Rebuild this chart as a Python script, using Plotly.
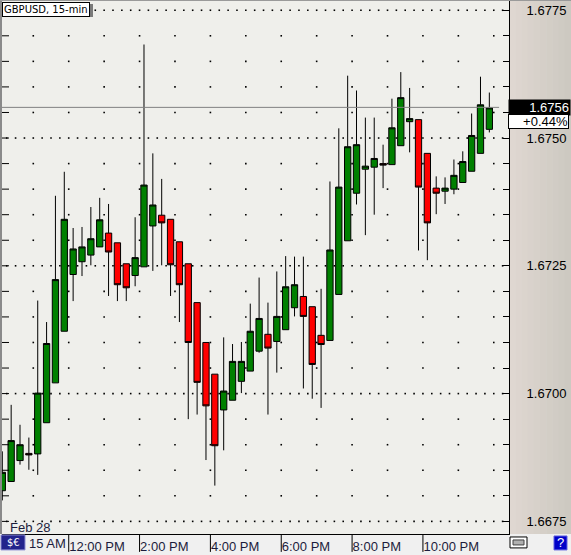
import plotly.graph_objects as go

# ---------------- data ----------------
bar_index = list(range(56))
open_ = [1.66810, 1.66828, 1.66869, 1.66883, 1.66882, 1.66943, 1.67021, 1.67122,
         1.67233, 1.67258, 1.67271, 1.67287, 1.67314, 1.67295, 1.67254, 1.67231,
         1.67248, 1.67328, 1.67349, 1.67341, 1.67297, 1.67254, 1.67178, 1.67100,
         1.67038, 1.66968, 1.66987, 1.67024, 1.67044, 1.67083, 1.67116, 1.67102,
         1.67125, 1.67168, 1.67190, 1.67170, 1.67114, 1.67104, 1.67194, 1.67299,
         1.67392, 1.67439, 1.67443, 1.67450, 1.67448, 1.67485, 1.67532, 1.67536,
         1.67470, 1.67402, 1.67396, 1.67400, 1.67413, 1.67435, 1.67470, 1.67517]
high = [1.66887, 1.66978, 1.66939, 1.66914, 1.67182, 1.67140, 1.67387, 1.67434,
        1.67324, 1.67326, 1.67365, 1.67383, 1.67371, 1.67295, 1.67254, 1.67345,
        1.67683, 1.67470, 1.67420, 1.67341, 1.67297, 1.67254, 1.67178, 1.67100,
        1.67038, 1.67110, 1.67097, 1.67101, 1.67176, 1.67227, 1.67178, 1.67239,
        1.67269, 1.67268, 1.67268, 1.67170, 1.67205, 1.67415, 1.67519, 1.67622,
        1.67593, 1.67540, 1.67540, 1.67487, 1.67577, 1.67629, 1.67598, 1.67536,
        1.67470, 1.67425, 1.67423, 1.67458, 1.67474, 1.67548, 1.67620, 1.67589]
low = [1.66791, 1.66828, 1.66861, 1.66851, 1.66841, 1.66943, 1.67021, 1.67122,
       1.67181, 1.67230, 1.67251, 1.67287, 1.67191, 1.67181, 1.67181, 1.67210,
       1.67248, 1.67240, 1.67251, 1.67191, 1.67140, 1.66950, 1.66959, 1.66870,
       1.66820, 1.66889, 1.66987, 1.67001, 1.67044, 1.67080, 1.66959, 1.67041,
       1.67125, 1.67151, 1.67010, 1.66990, 1.66972, 1.67104, 1.67194, 1.67299,
       1.67370, 1.67310, 1.67350, 1.67402, 1.67448, 1.67485, 1.67472, 1.67280,
       1.67261, 1.67351, 1.67371, 1.67390, 1.67413, 1.67435, 1.67470, 1.67511]
close = [1.66846, 1.66908, 1.66900, 1.66880, 1.67001, 1.67098, 1.67223, 1.67341,
         1.67283, 1.67287, 1.67303, 1.67340, 1.67277, 1.67213, 1.67207, 1.67266,
         1.67408, 1.67369, 1.67334, 1.67252, 1.67213, 1.67100, 1.67022, 1.66976,
         1.66898, 1.67005, 1.67063, 1.67063, 1.67122, 1.67147, 1.67089, 1.67151,
         1.67209, 1.67213, 1.67151, 1.67057, 1.67096, 1.67281, 1.67404, 1.67483,
         1.67487, 1.67445, 1.67460, 1.67447, 1.67520, 1.67579, 1.67538, 1.67404,
         1.67334, 1.67392, 1.67402, 1.67427, 1.67454, 1.67505, 1.67565, 1.67559]

current_price = 1.6756
change_text = "+0.44%"
title_text = "GBPUSD, 15-min"
date_text = "Feb 28"
first_label = "15 AM"

time_tick_pos = [7.5, 15.5, 23.5, 31.5, 39.5, 47.5]
time_labels = ["12:00 PM", "2:00 PM", "4:00 PM", "6:00 PM", "8:00 PM", "10:00 PM"]
hour_grid_pos = [3.5 + 4 * k for k in range(14)]

price_major = [1.6675, 1.6700, 1.6725, 1.6750, 1.6775]
price_ticks = [round(1.6675 + 0.0005 * k, 4) for k in range(21)]
price_ticktext = [f"{p:.4f}" if p in price_major else "" for p in price_ticks]

# ---------------- layout geometry ----------------
W, H = 571, 555
ML, MR, MT, MB = 2, 62, 1, 18
PW = W - ML - MR
PH = H - MT - MB
X_RANGE = [-0.034, 57.22]
Y_RANGE = [1.667253, 1.677681]


def pxx(px):
    return (px - ML) / PW


def pxy(py):
    return (H - MB - py) / PH


FONT = "Liberation Sans, Arial, sans-serif"
NAVY = "#1c1c3c"

fig = go.Figure()

# dotted grid: major rows
gx, gy = [], []
for p in price_major:
    for i in range(-1, 58):
        gx.append(i + 0.5)
        gy.append(p)
# hourly columns at minor levels
for xg in hour_grid_pos:
    for p in price_ticks:
        if p not in price_major:
            gx.append(xg)
            gy.append(p)
fig.add_trace(go.Scatter(x=gx, y=gy, mode="markers",
                         marker=dict(symbol="square", size=1.6, color="black", line=dict(width=0)),
                         hoverinfo="skip", showlegend=False))

# left edge ticks
fig.add_trace(go.Scatter(x=[X_RANGE[0]] * len(price_ticks), y=price_ticks, mode="markers",
                         marker=dict(symbol="line-ew", size=10, line=dict(color="black", width=1)),
                         hoverinfo="skip", showlegend=False))

# current price line
fig.add_trace(go.Scatter(x=[X_RANGE[0], 56.1], y=[current_price, current_price], mode="lines",
                         line=dict(color="#808080", width=1), hoverinfo="skip", showlegend=False))

fig.add_trace(go.Candlestick(
    x=bar_index, open=open_, high=high, low=low, close=close,
    increasing=dict(fillcolor="#008000", line=dict(color="black", width=1)),
    decreasing=dict(fillcolor="#ff0000", line=dict(color="black", width=1)),
    whiskerwidth=0, hoverinfo="skip", showlegend=False))

shapes = []
# right panel gradient
c0 = (223, 215, 209)
c1 = (205, 201, 193)
n = 10
for k in range(n):
    t = k / (n - 1)
    col = tuple(int(round(c0[j] + (c1[j] - c0[j]) * t)) for j in range(3))
    x0 = 509 + k * (W - 509) / n
    x1 = 509 + (k + 1) * (W - 509) / n + 0.5
    shapes.append(dict(type="rect", xref="paper", yref="paper", x0=pxx(x0), x1=pxx(x1),
                       y0=pxy(537), y1=pxy(0), fillcolor="rgb(%d,%d,%d)" % col,
                       line=dict(width=0), layer="below"))
# left gray border
shapes.append(dict(type="rect", xref="paper", yref="paper", x0=pxx(0), x1=pxx(2),
                   y0=pxy(537), y1=pxy(0), fillcolor="#8a8a8a", line=dict(width=0), layer="above"))
# top border
shapes.append(dict(type="line", xref="paper", yref="paper", x0=pxx(0), x1=pxx(W),
                   y0=pxy(0.5), y1=pxy(0.5), line=dict(color="#9a9a9a", width=1)))
# time separators
for xv in time_tick_pos:
    shapes.append(dict(type="line", xref="x", yref="paper", x0=xv, x1=xv,
                       y0=0, y1=pxy(H), line=dict(color="black", width=1)))
# title shadow
shapes.append(dict(type="rect", xref="paper", yref="paper", x0=pxx(4), x1=pxx(93),
                   y0=pxy(17), y1=pxy(4), fillcolor="#7a7a7a", line=dict(width=0)))
# $€ icon
shapes.append(dict(type="rect", xref="paper", yref="paper", x0=pxx(1), x1=pxx(25),
                   y0=pxy(553), y1=pxy(538), fillcolor="#23238c",
                   line=dict(color="#8c8cd2", width=1)))
# link icon
shapes.append(dict(type="rect", xref="paper", yref="paper", x0=pxx(510), x1=pxx(527),
                   y0=pxy(551), y1=pxy(540), fillcolor="white", line=dict(color="black", width=1)))
shapes.append(dict(type="rect", xref="paper", yref="paper", x0=pxx(513), x1=pxx(524),
                   y0=pxy(548), y1=pxy(543), fillcolor="#b0b0b0", line=dict(color="#404040", width=1)))
# help icon
shapes.append(dict(type="rect", xref="paper", yref="paper", x0=pxx(554), x1=pxx(567),
                   y0=pxy(553), y1=pxy(539), fillcolor="#0000c8", line=dict(color="#6060e0", width=1)))

annotations = [
    dict(text=title_text, xref="paper", yref="paper", x=pxx(2), y=pxy(2.5), xanchor="left",
         yanchor="top", showarrow=False, bgcolor="white", bordercolor="black", borderwidth=1,
         borderpad=1, font=dict(family="DejaVu Sans", size=10, color="black")),
    dict(text=date_text, xref="paper", yref="paper", x=pxx(8), y=pxy(530), xanchor="left",
         yanchor="middle", showarrow=False, font=dict(family=FONT, size=13, color=NAVY)),
    dict(text=first_label, xref="paper", yref="paper", x=pxx(27), y=pxy(547), xanchor="left",
         yanchor="middle", showarrow=False, font=dict(family=FONT, size=13, color=NAVY)),
    dict(text="$€", xref="paper", yref="paper", x=pxx(13), y=pxy(545.5), xanchor="center",
         yanchor="middle", showarrow=False, font=dict(family="DejaVu Sans", size=10, color="white")),
    dict(text="?", xref="paper", yref="paper", x=pxx(560.5), y=pxy(546), xanchor="center",
         yanchor="middle", showarrow=False, font=dict(family=FONT, size=13, color="white")),
    dict(text=f"{current_price:.4f}", xref="paper", yref="y", x=pxx(508), y=current_price,
         xanchor="left", yanchor="middle", showarrow=False, bgcolor="black", borderpad=1,
         width=59, height=13, align="right", font=dict(family=FONT, size=13, color="white")),
    dict(text=change_text, xref="paper", yref="y", x=pxx(508), y=current_price, yshift=-7,
         xanchor="left", yanchor="top", showarrow=False, bgcolor="white", bordercolor="black",
         borderwidth=1, borderpad=0, width=59, height=13, align="right",
         font=dict(family=FONT, size=13, color="black")),
]

fig.update_layout(
    width=W, height=H,
    margin=dict(l=ML, r=MR, t=MT, b=MB, pad=0),
    paper_bgcolor="#f0f0f0",
    plot_bgcolor="#efefeb",
    showlegend=False,
    boxgap=0.29, boxgroupgap=0,
    shapes=shapes,
    annotations=annotations,
    xaxis=dict(range=X_RANGE, showgrid=False, zeroline=False, showline=True, linecolor="black",
               linewidth=1, ticks="", tickvals=time_tick_pos, ticktext=time_labels,
               ticklabelposition="outside right",
               tickfont=dict(family=FONT, size=13, color=NAVY),
               rangeslider=dict(visible=False), fixedrange=True),
    yaxis=dict(range=Y_RANGE, side="right", showgrid=False, zeroline=False, showline=True,
               linecolor="black", linewidth=1, ticks="inside", ticklen=6, tickcolor="black",
               tickvals=price_ticks, ticktext=price_ticktext, ticklabelstandoff=14,
               tickfont=dict(family=FONT, size=13, color="black"), fixedrange=True),
)

fig.write_html("out.html", config={"displayModeBar": False},
               post_script="document.body.style.margin='0px';document.body.style.overflow='hidden';")
